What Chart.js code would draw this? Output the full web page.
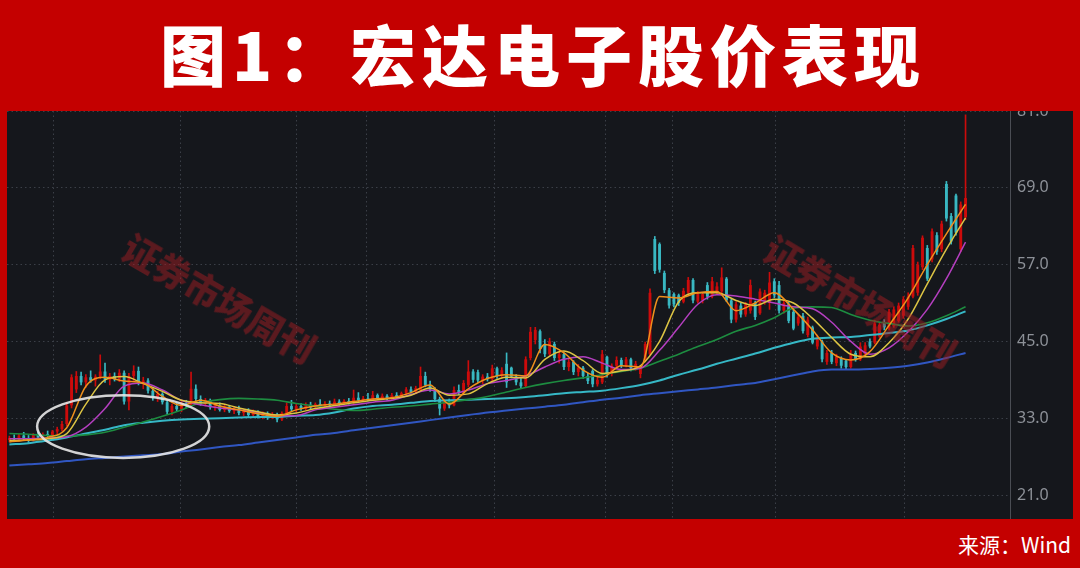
<!DOCTYPE html>
<html>
<head>
<meta charset="utf-8">
<script src="https://cdn.jsdelivr.net/npm/chart.js@4.4.1/dist/chart.umd.min.js"></script>
<style>
  html, body { margin: 0; padding: 0; }
  body {
    width: 1080px; height: 568px; position: relative; overflow: hidden;
    background: #c40000; font-family: "Noto Sans CJK SC", sans-serif;
  }
  #title {
    position: absolute; left: 0; top: -3px; width: 1080px; height: 111px;
    line-height: 111px; text-align: center; color: #fff;
    font-size: 66px; font-weight: 900; letter-spacing: 6px; padding-left: 6px; box-sizing: border-box;
  }
  #panel { position: absolute; left: 7px; top: 111px; width: 1066px; height: 408px; background: #15171c; }
  #src { position: absolute; right: 9px; top: 529px; color: #fff; font-size: 21px; }
  .wm {
    position: absolute; color: #a01c22; opacity: .5; font-size: 36px; font-weight: 900;
    line-height: 1; white-space: nowrap; pointer-events: none;
  }
</style>
</head>
<body>
<div id="title">图1：宏达电子股价表现</div>
<div id="panel"><canvas id="kline" width="1066" height="408"></canvas></div>
<div class="wm" style="left:220px;top:297px;transform:translate(-50%,-50%) rotate(30deg)">证券市场周刊</div>
<div class="wm" style="left:861px;top:300px;transform:translate(-50%,-50%) rotate(31deg)">证券市场周刊</div>
<div id="src">来源：Wind</div>

<script>
/* ── Дані: K-лінія (O/H/L/C по днях) ───────────────────────────── */

const opens = [
  29.6,29.9,29.7,30.3,29.8,29.5,30.4,30.0,30.5,30.3, 30.9,31.3,32.1,35.0,37.5,39.6,38.6,39.4,38.9,39.5,
  40.3,39.0,39.6,39.1,40.1,35.6,39.6,40.4,38.6,38.9, 37.3,36.2,36.8,35.5,34.0,34.9,34.4,35.3,35.0,37.6,
  36.0,35.3,35.8,34.7,35.0,34.3,34.8,34.1,34.5,33.8, 34.2,33.5,34.0,33.3,33.7,33.1,33.6,32.8,33.8,34.9,
  34.4,34.9,34.5,35.1,34.7,35.2,34.9,35.3,35.0,35.6, 35.3,35.7,35.5,36.2,35.8,36.1,35.9,36.6,36.1,36.5,
  36.0,36.6,36.3,36.9,37.5,37.1,37.4,39.6,38.2,37.5, 36.0,34.5,35.6,35.0,37.4,37.0,38.2,40.3,40.2,38.9,
  39.5,39.1,40.8,39.6,41.5,40.9,39.5,38.6,38.0,42.4, 45.2,46.6,44.5,43.0,44.6,42.4,43.0,41.0,41.8,40.2,
  40.9,39.6,40.4,38.3,38.6,42.6,39.9,41.2,42.1,41.2, 42.2,40.8,39.9,42.0,43.0,61.0,60.2,55.7,53.0,52.4,
  52.2,51.2,52.6,54.6,51.2,51.4,53.8,52.0,52.6,52.8, 54.8,51.4,48.4,50.6,49.2,49.8,51.0,49.4,51.2,51.0,
  54.4,53.8,49.8,50.8,49.6,47.8,49.0,46.0,47.2,44.2, 45.0,41.8,43.2,41.6,42.4,42.0,41.0,43.2,42.2,43.0,
  45.0,44.8,45.8,48.0,47.0,47.4,48.2,49.0,50.4,52.0, 52.6,56.6,59.6,57.8,61.6,59.4,69.6,64.6,67.8,59.4,
  64.4
];
const highs = [
  30.2,30.4,30.5,30.8,30.3,30.6,30.9,30.7,31.0,31.1, 31.6,32.5,35.5,39.8,40.3,40.2,39.8,40.4,39.8,42.9,
  41.6,40.0,40.1,40.6,40.4,40.0,41.2,41.0,39.4,39.2, 37.8,37.2,37.0,35.9,35.2,35.4,35.6,35.8,40.2,38.2,
  36.5,36.1,36.0,35.3,35.4,35.0,35.0,34.8,34.9,34.4, 34.5,34.3,34.2,34.0,34.0,33.9,33.8,34.0,35.4,35.8,
  35.2,35.3,35.4,35.5,35.4,35.9,35.6,35.7,36.0,35.9, 35.9,36.1,37.4,37.0,36.4,36.9,37.2,36.8,36.8,36.7,
  36.9,37.0,37.1,37.8,37.9,38.0,41.0,40.2,38.8,37.8, 36.3,35.9,36.0,37.9,38.2,38.9,42.0,40.6,40.5,39.8,
  40.0,41.3,41.0,40.9,43.2,41.0,39.8,39.4,42.6,47.2, 47.2,46.8,45.3,45.5,44.9,43.4,43.2,42.3,42.0,41.4,
  41.1,40.0,40.6,39.5,43.6,42.7,41.5,42.6,42.4,42.5, 42.4,41.9,41.2,44.9,53.2,61.4,60.4,56.0,53.3,52.6,
  52.4,53.3,55.0,54.8,52.8,52.6,54.2,55.0,54.2,56.5, 55.0,51.6,51.2,51.0,51.1,54.6,51.3,53.2,53.0,55.8,
  54.8,54.4,51.4,51.1,49.9,49.2,49.4,48.8,47.4,46.0, 45.2,43.6,43.6,43.0,42.6,42.2,43.6,43.5,44.8,44.8,
  45.4,48.3,48.0,48.4,50.0,50.4,51.0,52.0,52.6,60.0, 57.4,61.5,60.0,62.6,62.0,63.8,70.0,65.0,68.0,66.8,
  80.4
];
const lows = [
  29.3,29.5,29.4,29.6,29.2,29.4,29.8,29.8,30.1,30.0, 30.6,31.0,31.8,34.6,37.0,38.2,37.8,38.6,38.0,39.2,
  38.6,38.2,38.8,38.7,35.2,34.3,38.9,38.2,37.6,36.9, 35.8,35.6,35.2,33.6,33.5,34.1,34.0,34.6,34.8,35.4,
  35.0,34.9,34.4,34.2,34.1,34.0,33.9,33.7,33.5,33.4, 33.2,33.2,33.0,32.9,32.8,32.9,32.4,32.6,33.6,34.1,
  34.0,34.2,34.3,34.4,34.5,34.6,34.7,34.8,34.9,35.0, 35.1,35.2,35.3,35.5,35.6,35.7,35.8,35.9,35.9,35.8,
  35.8,36.1,36.2,36.6,36.9,36.8,37.2,37.9,37.2,35.6, 33.5,34.2,34.6,34.9,36.7,36.8,37.9,38.6,38.6,38.4,
  38.8,38.8,39.2,39.3,37.8,39.3,38.2,37.7,37.8,42.1, 44.6,43.2,42.6,42.8,42.0,41.6,40.6,40.4,39.8,39.6,
  39.2,38.4,37.9,38.0,38.4,39.4,39.6,40.8,40.9,41.0, 40.4,40.5,39.3,41.8,42.8,55.6,55.8,52.6,50.2,50.4,
  50.6,51.0,52.2,51.0,51.0,51.0,51.6,51.8,52.3,52.5, 51.2,47.9,48.0,48.8,48.9,49.4,48.4,49.2,50.8,50.0,
  51.8,49.4,49.4,47.9,46.8,47.5,46.3,45.7,44.6,43.8, 41.8,41.4,41.5,41.2,40.8,40.6,40.8,41.9,42.0,42.8,
  44.0,44.6,45.6,46.8,46.8,47.2,48.0,48.6,50.0,51.8, 52.2,56.2,54.5,57.4,58.6,59.0,63.8,60.2,61.6,59.0,
  64.0
];
const closes = [
  29.9,29.7,30.3,29.8,29.5,30.4,30.0,30.5,30.3,30.9, 31.3,32.1,35.0,39.4,39.6,38.6,39.4,38.9,39.5,40.3,
  39.0,39.6,39.1,40.1,35.6,39.6,40.4,38.6,38.9,37.3, 36.2,36.8,35.5,34.0,34.9,34.4,35.3,35.0,37.6,36.0,
  35.3,35.8,34.7,35.0,34.3,34.8,34.1,34.5,33.8,34.2, 33.5,34.0,33.3,33.7,33.1,33.6,32.8,33.8,34.9,34.4,
  34.9,34.5,35.1,34.7,35.2,34.9,35.3,35.0,35.6,35.3, 35.7,35.5,36.2,35.8,36.1,35.9,36.6,36.1,36.5,36.0,
  36.6,36.3,36.9,37.5,37.1,37.7,39.6,38.2,37.5,36.0, 34.5,35.6,35.0,37.4,37.0,38.5,40.3,39.0,38.9,39.5,
  39.1,40.8,39.6,40.5,38.6,39.5,38.6,38.0,42.2,46.5, 46.8,43.8,43.0,45.0,42.4,43.0,41.0,41.8,40.2,40.9,
  39.6,38.8,38.3,39.0,43.0,39.9,41.2,42.1,41.2,42.2, 40.8,41.5,40.9,44.6,52.6,56.0,56.2,53.0,50.6,50.8,
  51.0,52.9,54.6,51.4,52.4,52.4,52.0,54.4,53.6,55.0, 51.4,48.4,50.8,49.2,50.8,53.8,48.8,52.8,52.6,54.2,
  52.2,49.8,51.0,48.2,47.0,48.8,46.6,48.4,44.8,45.6, 42.2,43.2,41.8,42.6,41.2,41.0,43.0,42.2,44.2,44.4,
  44.2,47.8,47.6,47.2,49.6,50.0,50.6,51.6,52.0,59.6, 57.0,61.2,54.8,62.2,59.0,63.4,64.2,60.6,62.0,66.4,
  67.4
];

/* ── Дані: ковзні середні (значення у вибраних днях) ───────────── */

const maIdx = [
  0,4,8,12,16,20,24,28,32,36, 40,44,48,52,56,60,64,68,72,76,
  80,84,88,92,96,100,104,108,112,116, 120,124,128,132,136,140,144,148,152,156,
  160,164,168,172,176,180,184,188,192,196, 200
];
const ma5 = [
  29.3,29.6,30.0,31.5,38.0,39.4,38.8,38.5,36.4,35.0, 35.8,34.9,34.3,33.7,33.3,34.3,34.9,35.2,35.6,36.0,
  36.2,37.0,38.2,35.2,37.6,39.2,39.8,39.6,44.5,43.2, 40.5,39.4,41.2,41.0,52.0,51.8,52.6,52.8,49.8,51.0,
  52.6,50.0,46.8,43.2,42.1,43.4,47.5,51.8,57.0,61.8, 66.4
];
const ma10 = [
  29.5,29.6,29.8,30.6,35.2,39.0,39.5,38.4,37.2,35.8, 35.4,35.3,34.6,34.0,33.5,33.8,34.5,35.0,35.4,35.8,
  36.1,36.6,37.7,36.6,36.8,38.4,39.4,39.3,42.2,43.5, 42.0,40.0,40.4,41.2,45.0,51.2,52.6,52.6,51.4,50.6,
  51.6,51.0,48.6,45.6,43.0,42.6,44.8,48.5,54.0,59.4, 64.3
];
const ma20 = [
  29.8,29.8,29.9,30.1,31.6,34.5,38.0,38.5,37.4,35.8, 35.1,34.6,34.3,33.9,33.4,33.4,34.3,34.7,35.1,35.5,
  35.8,36.7,37.4,36.8,37.4,38.4,38.9,39.6,41.0,42.2, 42.6,41.6,40.6,40.8,43.6,47.2,50.8,52.3,52.1,51.6,
  51.0,50.4,50.1,48.0,45.0,43.0,44.0,46.5,50.0,54.8, 60.5
];
const ma60 = [
  30.6,30.5,30.3,30.2,30.4,30.8,31.6,32.4,33.3,34.3, 35.4,35.9,36.1,36.0,35.8,35.3,34.9,34.4,34.2,34.4,
  34.7,34.9,35.2,35.5,35.9,36.4,37.1,37.8,38.4,38.9, 39.3,39.8,40.3,40.8,41.9,43.0,44.2,45.3,46.6,47.5,
  48.7,50.2,50.4,50.3,49.2,48.3,47.8,47.4,47.9,49.0, 50.4
];
const ma120 = [
  28.9,29.1,29.5,30.0,30.6,31.2,31.9,32.3,32.6,32.8, 32.9,33.0,33.1,33.2,33.2,33.4,33.5,33.9,34.5,34.9,
  35.1,35.4,35.7,35.8,35.9,36.0,36.1,36.3,36.6,36.9, 37.1,37.3,37.7,38.2,38.9,39.8,40.6,41.5,42.3,43.1,
  44.0,44.8,45.4,45.6,45.7,46.0,46.3,46.7,47.5,48.5, 49.7
];
const ma250 = [
  25.6,25.8,26.0,26.3,26.6,26.8,27.0,27.2,27.4,27.8, 28.1,28.5,28.8,29.2,29.6,30.0,30.4,30.7,31.1,31.5,
  31.9,32.3,32.7,33.1,33.5,33.9,34.2,34.5,34.8,35.1, 35.5,35.9,36.2,36.6,36.9,37.2,37.5,37.8,38.2,38.5,
  39.1,39.7,40.3,40.6,40.6,40.7,40.9,41.2,41.7,42.4, 43.2
];

/* ── Осі та позначки ───────────────────────────────────────────── */

const yTicks   = [21, 33, 45, 57, 69, 81];
const dateGrid = [9.3, 35.7, 60.0, 74.6, 101.4, 124.6, 138.8, 160.2, 187.2];   // межі періодів (індекси днів)
const ringMark = { x: 23.8, y: 31.7, rx: 18.0, ry: 4.9 };                     // овал навколо ділянки

/* ── Стилі ─────────────────────────────────────────────────────── */

const UP   = '#cc0b0b';
const DOWN = '#39b8c2';
const GRID = '#3b3f47';

const isUp = i => closes[i] >= opens[i];
const days = closes.map((_, i) => i);

function maLine(values, color, width) {
    return {
        type: 'line',
        data: maIdx.map((x, k) => ({ x, y: values[k] })),
        borderColor: color,
        borderWidth: width,
        pointRadius: 0,
        cubicInterpolationMode: 'monotone',
        order: 0
    };
}

// Прибираємо службові відступи шкал, щоб область графіка займала всю панель
function noPad(s) {
    s.paddingTop = 0; s.paddingBottom = 0;
    s.paddingLeft = 0; s.paddingRight = 0;
}

// Овал малюємо через шкали графіка
const ringPlugin = {
    id: 'ring',
    afterDatasetsDraw(chart) {
        const { ctx, scales: { x, y } } = chart;
        const cx = x.getPixelForValue(ringMark.x);
        const cy = y.getPixelForValue(ringMark.y);
        const rx = Math.abs(x.getPixelForValue(ringMark.x + ringMark.rx) - cx);
        const ry = Math.abs(y.getPixelForValue(ringMark.y + ringMark.ry) - cy);
        ctx.save();
        ctx.strokeStyle = 'rgba(228,228,228,0.92)';
        ctx.lineWidth = 2.5;
        ctx.beginPath();
        ctx.ellipse(cx, cy, rx, ry, 0, 0, Math.PI * 2);
        ctx.stroke();
        ctx.restore();
    }
};

new Chart(document.getElementById('kline'), {
    type: 'bar',
    data: {
        datasets: [
            maLine(ma5,   '#f0901c', 1.5),
            maLine(ma10,  '#dcc444', 1.5),
            maLine(ma20,  '#b53fc0', 1.5),
            maLine(ma60,  '#1d8c40', 1.6),
            maLine(ma120, '#36b8c6', 2),
            maLine(ma250, '#3056c2', 2),
            {
                // тіла свічок
                data: days.map(i => ({ x: i, y: [opens[i], closes[i]] })),
                backgroundColor: ctx => isUp(ctx.dataIndex) ? UP : DOWN,
                barPercentage: 0.75,
                categoryPercentage: 0.8,
                minBarLength: 1,
                grouped: false,
                order: 2
            },
            {
                // тіні свічок
                data: days.map(i => ({ x: i, y: [lows[i], highs[i]] })),
                backgroundColor: ctx => isUp(ctx.dataIndex) ? UP : DOWN,
                barThickness: 1,
                grouped: false,
                order: 3
            }
        ]
    },
    options: {
        responsive: false,
        animation: false,
        events: [],
        layout: { padding: 0 },
        plugins: { legend: { display: false }, tooltip: { enabled: false } },
        scales: {
            x: {
                type: 'linear',
                offset: false,
                min: -0.5,
                max: 209.3,
                afterBuildTicks: s => { s.ticks = dateGrid.map(v => ({ value: v })); },
                afterFit: s => { s.height = 0; noPad(s); },
                ticks: { display: false },
                grid: { color: GRID, drawTicks: false, offset: false },
                border: { display: false, dash: [1.5, 3] }
            },
            y: {
                position: 'right',
                min: 17.25,
                max: 81.0,
                afterBuildTicks: s => { s.ticks = yTicks.map(v => ({ value: v })); },
                afterFit: s => { s.width = 63; noPad(s); },
                ticks: {
                    color: '#8d9198',
                    padding: 7,
                    font: { family: 'Noto Sans', size: 16 },
                    callback: v => Number(v).toFixed(1)
                },
                grid: { color: GRID, drawTicks: false },
                border: { display: true, color: '#4a4d54', width: 1, dash: [1.5, 3] }
            }
        }
    },
    plugins: [ringPlugin]
});
</script>
</body>
</html>
